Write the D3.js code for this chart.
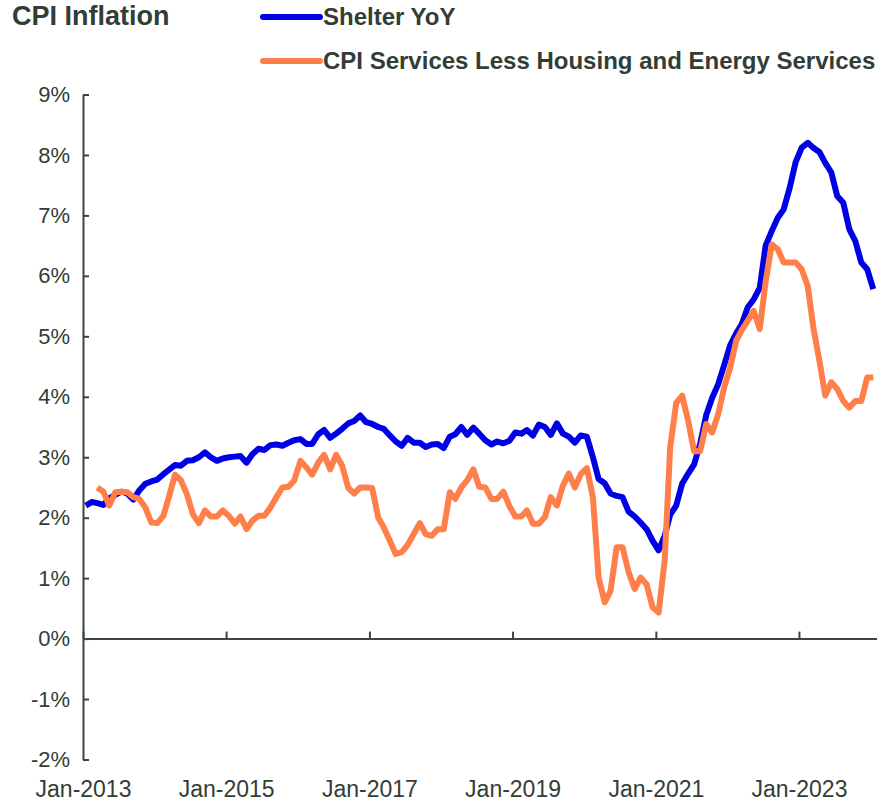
<!DOCTYPE html>
<html>
<head>
<meta charset="utf-8">
<script src="https://cdn.jsdelivr.net/npm/d3@7"></script>
<style>
  body { margin: 0; background: #fff; }
  text { font-family: "Liberation Sans", Arial, sans-serif; fill: #323d35; }
</style>
</head>
<body>
<div id="chart"></div>
<script>
// Monthly YoY % values
const shelterStart = 0;   // months after Jan-2013
const shelterYoY = [
  2.2, 2.26, 2.24, 2.21, 2.32, 2.38, 2.43, 2.4, 2.3, 2.45, 2.56, 2.6,
  2.63, 2.72, 2.79, 2.87, 2.86, 2.94, 2.95, 3.0, 3.08, 3.0, 2.94, 2.98,
  3.0, 3.01, 3.02, 2.91, 3.05, 3.14, 3.12, 3.2, 3.21, 3.19, 3.24, 3.28,
  3.3, 3.22, 3.22, 3.38, 3.45, 3.32, 3.39, 3.47, 3.56, 3.6, 3.69, 3.58,
  3.55, 3.5, 3.47, 3.36, 3.26, 3.19, 3.32, 3.24, 3.24, 3.17, 3.21, 3.22,
  3.15, 3.34, 3.38, 3.5, 3.37, 3.49, 3.39, 3.28, 3.21, 3.26, 3.23, 3.27,
  3.41, 3.39, 3.45, 3.36, 3.54, 3.5, 3.37, 3.56, 3.39, 3.34, 3.24, 3.36,
  3.34, 3.0, 2.64, 2.57, 2.4, 2.36, 2.34, 2.1, 2.02, 1.92, 1.81, 1.62,
  1.46, 1.7, 2.05, 2.2, 2.56, 2.73, 2.88, 3.22, 3.7, 3.98, 4.21, 4.52,
  4.85, 5.05, 5.2, 5.48, 5.61, 5.8, 6.5, 6.74, 6.96, 7.1, 7.46, 7.88,
  8.12, 8.2, 8.12, 8.05, 7.87, 7.71, 7.32, 7.21, 6.77, 6.58, 6.22, 6.11,
  5.78
];

const servicesStart = 2;  // series begins Mar-2013
const servicesYoY = [
  2.5, 2.43, 2.2, 2.42, 2.43, 2.42, 2.34, 2.31, 2.17, 1.92,
  1.91, 2.03, 2.34, 2.71, 2.62, 2.39, 2.06, 1.91, 2.12, 2.02, 2.02, 2.12,
  2.03, 1.9, 2.02, 1.81, 1.95, 2.03, 2.03, 2.17, 2.34, 2.5, 2.51, 2.62,
  2.94, 2.83, 2.71, 2.91, 3.04, 2.8, 3.04, 2.86, 2.49, 2.4, 2.5, 2.5,
  2.49, 2.0, 1.84, 1.62, 1.4, 1.43, 1.55, 1.73, 1.91, 1.73, 1.7, 1.81,
  1.81, 2.42, 2.31, 2.5, 2.62, 2.8, 2.51, 2.5, 2.31, 2.31, 2.43, 2.2,
  2.02, 2.02, 2.12, 1.9, 1.9, 2.01, 2.34, 2.2, 2.53, 2.73, 2.5, 2.72,
  2.82, 2.34, 1.01, 0.6, 0.79, 1.51, 1.51, 1.1, 0.82, 1.01, 0.9, 0.52,
  0.43, 1.29, 3.16, 3.9, 4.02, 3.6, 3.1, 3.1, 3.55, 3.41, 3.71, 4.15,
  4.48, 4.93, 5.1, 5.26, 5.42, 5.12, 5.9, 6.52, 6.44, 6.22, 6.22, 6.22,
  6.11, 5.83, 5.15, 4.6, 4.02, 4.24, 4.13, 3.93, 3.82, 3.93, 3.93, 4.32,
  4.32
];

const yTicks = [-2, -1, 0, 1, 2, 3, 4, 5, 6, 7, 8, 9];
const xTickYears = [2013, 2015, 2017, 2019, 2021, 2023];
const seriesNames = ["Shelter YoY", "CPI Services Less Housing and Energy Services"];
const seriesColors = ["#0000e6", "#ff7f4a"];

// turn a value array into dated points (mid-month)
function toPoints(values, start) {
    return values.map((v, i) => ({date: new Date(2013, start + i, 15), value: v}));
}

const width = 892, height = 801;
const plot = {left: 83, right: 876.6, top: 94.5, bottom: 759.5};

const svg = d3.select("#chart")
    .append("svg")
    .attr("width", width)
    .attr("height", height);

const x = d3.scaleTime()
    .domain([new Date(2013, 0, 1), new Date(2024, 1, 1)])
    .range([plot.left, plot.right]);

const y = d3.scaleLinear()
    .domain([-2, 9])
    .range([plot.bottom, plot.top]);

// Y axis, ticks point into the plot
const yAxis = svg.append("g")
    .attr("transform", "translate(" + plot.left + ",0)")
    .call(d3.axisLeft(y)
        .tickValues(yTicks)
        .tickFormat(d => d + "%")
        .tickSizeInner(-6)
        .tickSizeOuter(0)
        .tickPadding(13));

// X axis sits on 0%, labels drawn down at the bottom
const xAxis = svg.append("g")
    .attr("transform", "translate(0," + y(0) + ")")
    .call(d3.axisBottom(x)
        .tickValues(xTickYears.map(yr => new Date(yr, 0, 1)))
        .tickFormat(d3.timeFormat("%b-%Y"))
        .tickSizeInner(-7)
        .tickSizeOuter(0)
        .tickPadding(142));

[yAxis, xAxis].forEach(g => {
    g.selectAll("path, line").attr("stroke", "#3a463e").attr("stroke-width", 2);
    g.selectAll("text").attr("font-size", 22).attr("fill", "#323d35");
});
xAxis.selectAll("text").attr("font-size", 23);

// Lines
const line = d3.line()
    .x(d => x(d.date))
    .y(d => y(d.value));

const series = [toPoints(shelterYoY, shelterStart), toPoints(servicesYoY, servicesStart)];

series.forEach((pts, i) => {
    svg.append("path")
        .datum(pts)
        .attr("fill", "none")
        .attr("stroke", seriesColors[i])
        .attr("stroke-width", 6)
        .attr("stroke-linejoin", "round")
        .attr("d", line);
});

// Title
svg.append("text")
    .attr("x", 12)
    .attr("y", 25)
    .attr("font-size", 27)
    .attr("font-weight", "bold")
    .text("CPI Inflation");

// Legend
const legend = svg.append("g");
seriesNames.forEach((name, i) => {
    const ly = 17 + i * 44;
    legend.append("line")
        .attr("x1", 263).attr("x2", 320)
        .attr("y1", ly).attr("y2", ly)
        .attr("stroke", seriesColors[i])
        .attr("stroke-width", 6)
        .attr("stroke-linecap", "round");
    legend.append("text")
        .attr("x", 323)
        .attr("y", ly + 8)
        .attr("font-size", 24)
        .attr("font-weight", "bold")
        .text(name);
});
</script>
</body>
</html>
